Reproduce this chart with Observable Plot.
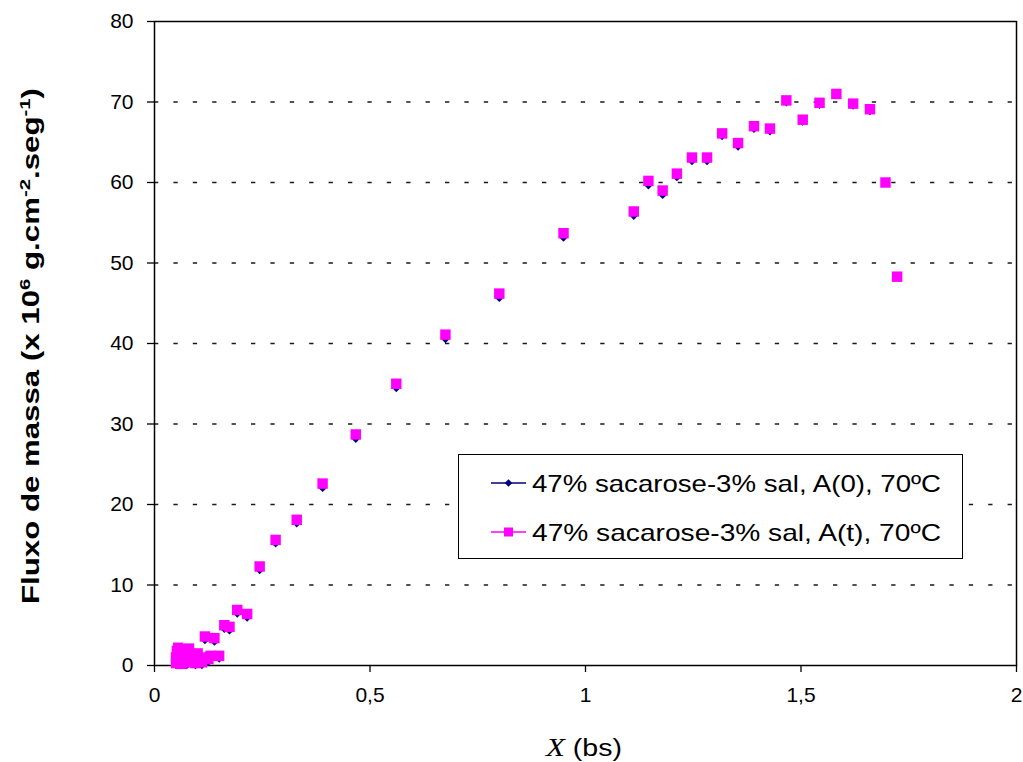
<!DOCTYPE html>
<html>
<head>
<meta charset="utf-8">
<script src="https://cdn.jsdelivr.net/npm/d3@7"></script>
<script src="https://cdn.jsdelivr.net/npm/@observablehq/plot@0.6"></script>
<style>
  html, body { margin: 0; padding: 0; background: #fff; }
  #chart { position: relative; width: 1023px; height: 762px; }
</style>
</head>
<body>
<div id="chart"></div>
<script>
// ---- data ----
const xBs = [0.050,0.050,0.052,0.055,0.058,0.060,0.063,0.065,0.068,0.070,0.075,0.078,0.080,0.085,0.090,0.095,0.100,0.105,0.110,0.115,0.117,0.125,0.130,0.139,0.150,0.162,0.174,0.192,0.215,0.244,0.281,0.330,0.390,0.467,0.561,0.675,0.800,0.949,1.112,1.146,1.179,1.212,1.247,1.282,1.317,1.354,1.391,1.428,1.466,1.504,1.543,1.582,1.621,1.660,1.696,1.723];
const fluxA0 = [0.0,0.6,1.4,1.8,0.1,1.0,0.0,1.6,0.4,1.2,0.0,0.8,1.7,0.2,0.6,0.0,1.1,0.3,0.0,0.6,3.1,0.4,0.8,2.9,0.8,4.5,4.3,6.4,5.9,11.8,15.1,17.6,22.0,28.1,34.4,40.5,45.6,53.1,55.8,59.6,58.4,60.6,62.6,62.6,65.7,64.4,66.6,66.3,69.9,67.5,69.6,70.8,69.5,68.8,60.0,48.3];
const fluxAt = [0.3,1.0,1.8,2.2,0.5,1.4,0.2,2.0,0.8,1.6,0.4,1.2,2.1,0.6,1.0,0.3,1.5,0.7,0.4,1.0,3.6,0.8,1.2,3.4,1.2,5.0,4.8,6.9,6.4,12.3,15.6,18.1,22.6,28.7,35.0,41.1,46.2,53.7,56.4,60.2,59.0,61.1,63.1,63.1,66.1,64.9,67.0,66.7,70.2,67.8,69.9,71.0,69.8,69.1,60.0,48.3];
const seriesNames = ["47% sacarose-3% sal, A(0), 70ºC", "47% sacarose-3% sal, A(t), 70ºC"];
const xTicks = [0, 0.5, 1, 1.5, 2];
const yTicks = [0, 10, 20, 30, 40, 50, 60, 70, 80];
const yGrid = [10, 20, 30, 40, 50, 60, 70];

const rows = xBs.map((x, i) => ({x, a0: fluxA0[i], at: fluxAt[i]}));
const fmt = d => String(d).replace(".", ",");

const navy = "#000080", magenta = "#ff00ff";

const svg = Plot.plot({
  width: 1023, height: 762,
  marginLeft: 154, marginRight: 7, marginTop: 21, marginBottom: 97,
  style: {fontFamily: "Arial, 'Liberation Sans', sans-serif", fontSize: "21px", color: "#000", background: "#fff"},
  x: {domain: [0, 2]},
  y: {domain: [0, 80]},
  marks: [
    Plot.gridY(yGrid, {stroke: "#000", strokeOpacity: 0.9, strokeWidth: 1.3, strokeDasharray: "4.3,15.1"}),
    Plot.frame({stroke: "#000", strokeWidth: 1.5}),
    Plot.axisX(xTicks, {tickSize: 7, tickPadding: 15, tickFormat: fmt, label: null, strokeWidth: 1.3}),
    Plot.axisY(yTicks, {tickSize: 7, tickPadding: 14, label: null, strokeWidth: 1.3}),
    Plot.dot(rows, {x: "x", y: "a0", symbol: "diamond2", r: 3.3, fill: navy}),
    Plot.dot(rows, {x: "x", y: "at", symbol: "square", r: 5.9, fill: magenta})
  ]
});
document.getElementById("chart").appendChild(svg);

const s = d3.select(svg);

// y-axis title with superscripts
const yt = s.append("text")
  .attr("transform", "translate(39,346) rotate(-90)")
  .attr("text-anchor", "middle")
  .attr("font-family", "Arial, 'Liberation Sans', sans-serif")
  .attr("font-weight", "bold")
  .attr("font-size", 23)
  .attr("textLength", 516).attr("lengthAdjust", "spacingAndGlyphs")
  .attr("fill", "#000");
yt.append("tspan").text("Fluxo de massa (x 10");
yt.append("tspan").attr("dy", -9).attr("font-size", 15).text("6");
yt.append("tspan").attr("dy", 9).text(" g.cm");
yt.append("tspan").attr("dy", -9).attr("font-size", 15).text("-2");
yt.append("tspan").attr("dy", 9).text(".seg");
yt.append("tspan").attr("dy", -9).attr("font-size", 15).text("-1");
yt.append("tspan").attr("dy", 9).text(")");

// x-axis title
const xt = s.append("text")
  .attr("x", 584).attr("y", 756)
  .attr("text-anchor", "middle")
  .attr("textLength", 76).attr("lengthAdjust", "spacingAndGlyphs")
  .attr("fill", "#000");
xt.append("tspan").attr("font-family", "'Times New Roman', 'Liberation Serif', serif").attr("font-style", "italic").attr("font-size", 25).text("X");
xt.append("tspan").attr("font-family", "Arial, 'Liberation Sans', sans-serif").attr("font-size", 23).text(" (bs)");

// legend
const lg = s.append("g");
lg.append("rect").attr("x", 458.5).attr("y", 454.5).attr("width", 504).attr("height", 104)
  .attr("fill", "#fff").attr("stroke", "#000").attr("stroke-width", 1);
const legendRows = [
  {name: seriesNames[0], color: navy, y: 483, sym: "diamond"},
  {name: seriesNames[1], color: magenta, y: 532, sym: "square"}
];
legendRows.forEach(r => {
  lg.append("line").attr("x1", 491).attr("x2", 526).attr("y1", r.y).attr("y2", r.y)
    .attr("stroke", r.color).attr("stroke-width", 1.6);
  if (r.sym === "diamond") {
    lg.append("path").attr("d", d3.symbol(d3.symbolDiamond2, 36)())
      .attr("transform", `translate(508.5,${r.y})`).attr("fill", r.color);
  } else {
    lg.append("rect").attr("x", 504).attr("y", r.y - 4.5).attr("width", 9).attr("height", 9).attr("fill", r.color);
  }
  lg.append("text").attr("x", 532).attr("y", r.y + 9)
    .attr("text-anchor", "start")
    .attr("font-family", "Arial, 'Liberation Sans', sans-serif")
    .attr("font-size", 24)
    .attr("textLength", 409).attr("lengthAdjust", "spacingAndGlyphs")
    .attr("fill", "#000").text(r.name);
});
</script>
</body>
</html>
